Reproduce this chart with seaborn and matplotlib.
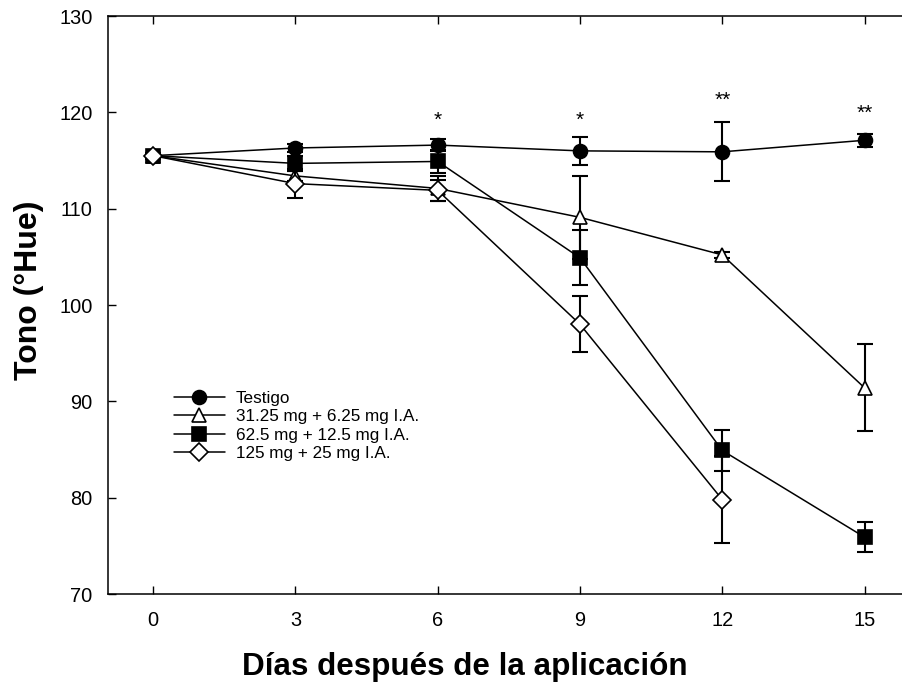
import matplotlib
matplotlib.use("Agg")
import matplotlib.pyplot as plt
import seaborn as sns
import pandas as pd
import numpy as np

days = [0, 3, 6, 9, 12, 15]
series_names = ["Testigo", "31.25 mg + 6.25 mg I.A.", "62.5 mg + 12.5 mg I.A.", "125 mg + 25 mg I.A."]
testigo = [115.5, 116.3, 116.6, 116.0, 115.9, 117.1]
testigo_err = [0.3, 0.4, 0.6, 1.45, 3.05, 0.65]
dose1 = [115.5, 113.4, 112.1, 109.1, 105.2, 91.4]
dose1_err = [0.3, 0.5, 1.3, 4.3, 0.3, 4.5]
dose2 = [115.5, 114.7, 114.9, 104.9, 84.9, 75.9]
dose2_err = [0.3, 0.8, 1.2, 2.85, 2.1, 1.55]
dose3 = [115.5, 112.6, 111.9, 98.0, 79.8, None]
dose3_err = [0.3, 1.5, 1.1, 2.9, 4.5, None]
sig_days = [6, 9, 12, 15]
sig_labels = ["*", "*", "**", "**"]
sig_y = [119.2, 119.2, 121.2, 119.9]
yticks = [70, 80, 90, 100, 110, 120, 130]

sns.set_style("ticks")
plt.rcParams['font.family'] = ['Liberation Sans', 'DejaVu Sans']
plt.rcParams['text.color'] = 'black'
plt.rcParams['axes.labelcolor'] = 'black'
plt.rcParams['xtick.color'] = 'black'
plt.rcParams['ytick.color'] = 'black'
plt.rcParams['axes.edgecolor'] = 'black'

fig = plt.figure(figsize=(9.02, 6.83), dpi=100)
ax = fig.add_axes([108/902, 89/683, (912-108)/902, 578/683])

values = [testigo, dose1, dose2, dose3]
errs = [testigo_err, dose1_err, dose2_err, dose3_err]
markers = ["o", "^", "s", "D"]
faces = ["black", "white", "black", "white"]
msizes = [10, 10, 9.5, 9]

rows = []
for name, vals, er in zip(series_names, values, errs):
    for d, v, e in zip(days, vals, er):
        if v is not None:
            rows.append({"dia": d, "tono": v, "err": e, "trat": name})
df = pd.DataFrame(rows)

for i, name in enumerate(series_names):
    sub = df[df["trat"] == name]
    ax.errorbar(sub["dia"], sub["tono"], yerr=sub["err"], fmt="none",
                ecolor="black", elinewidth=1.5, capsize=6, capthick=1.5, zorder=2 + i)
    sns.lineplot(data=sub, x="dia", y="tono", ax=ax, color="black", lw=1.1,
                 marker=markers[i], markersize=msizes[i], markerfacecolor=faces[i],
                 markeredgecolor="black", markeredgewidth=1.2, label=name,
                 zorder=3 + i, estimator=None, errorbar=None)

for d, lab, y in zip(sig_days, sig_labels, sig_y):
    ax.text(d, y, lab, ha="center", va="center", fontsize=15, color="black")

ax.set_xlim(-0.95, 16.0)
ax.set_ylim(70, 130)
ax.set_xticks(days)
ax.set_yticks(yticks)
ax.tick_params(direction="in", top=True, right=False, length=6, width=1, labelsize=14.4)
ax.tick_params(axis="x", pad=12)
ax.tick_params(axis="y", pad=11)
for s in ["top", "bottom", "left", "right"]:
    ax.spines[s].set_visible(True)
    ax.spines[s].set_linewidth(1.1)
ax.set_xlabel("Días después de la aplicación", fontsize=22.6, fontweight="bold")
ax.set_ylabel("Tono (°Hue)", fontsize=23, fontweight="bold")
ax.xaxis.set_label_coords(0.444, -0.1)
ax.yaxis.set_label_coords(-0.08, 0.526)

leg = ax.legend(loc="upper left", bbox_to_anchor=(0.073, 0.363), frameon=False,
                fontsize=12.3, handlelength=3.0, handletextpad=0.65, labelspacing=0.2,
                borderaxespad=0)

fig.savefig("out.png", dpi=100)
